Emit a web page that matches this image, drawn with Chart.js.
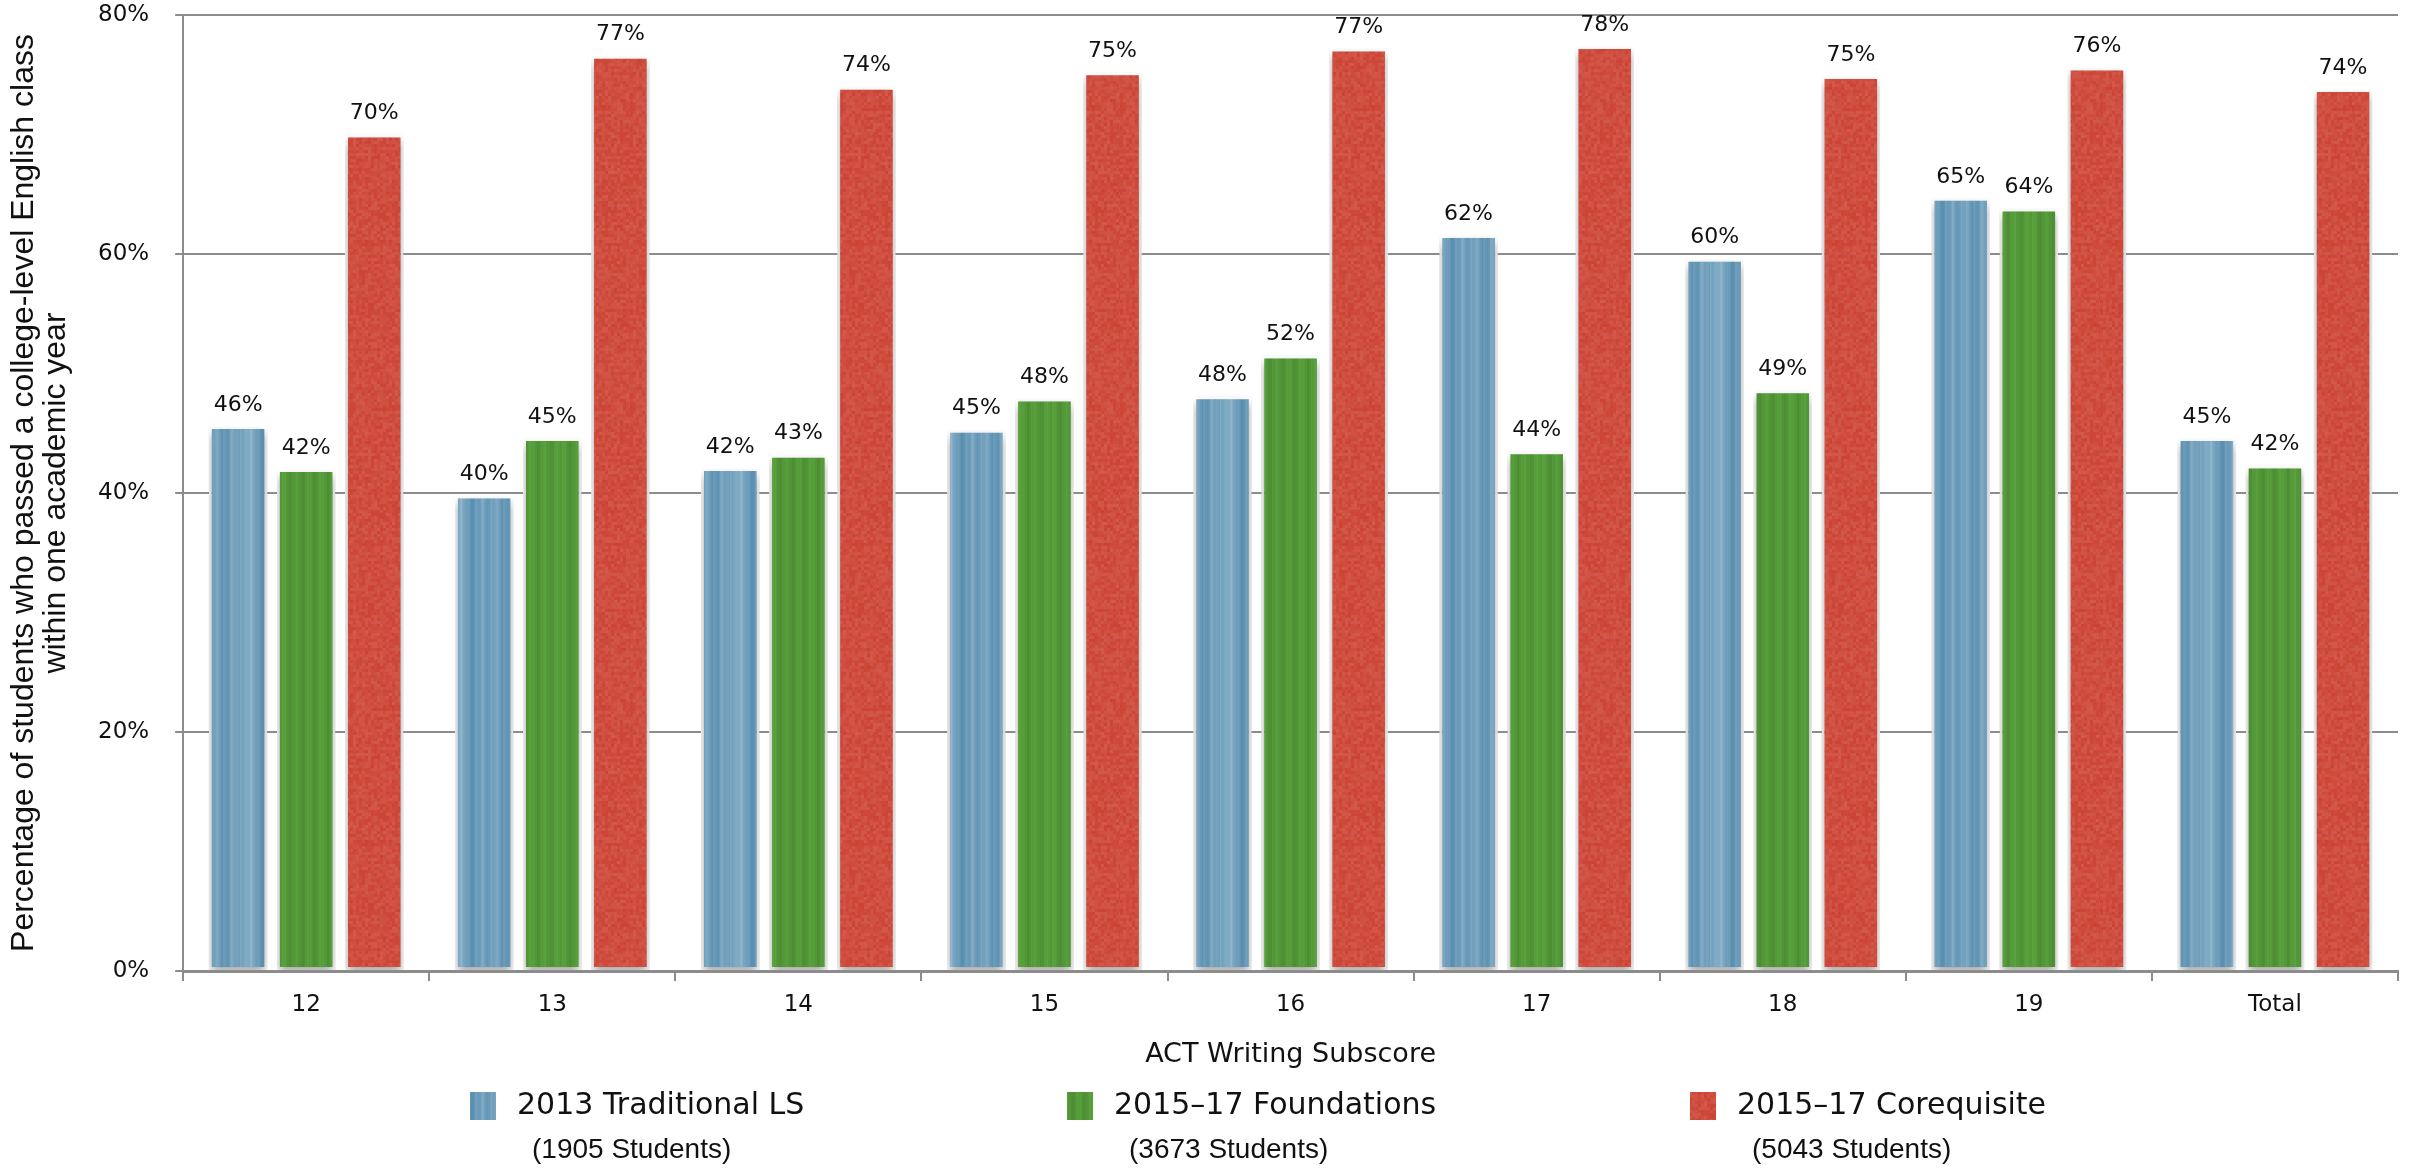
<!DOCTYPE html>
<html>
<head>
<meta charset="utf-8">
<script src="https://cdn.jsdelivr.net/npm/chart.js@4.4.1/dist/chart.umd.min.js"></script>
<style>
  html, body { margin: 0; padding: 0; background: #fff; }
  #wrap { width: 2410px; height: 1170px; }
</style>
</head>
<body>
<div id="wrap"><canvas id="chart" width="2410" height="1170"></canvas></div>
<script>
// values (percent passing)
const categories = ['12', '13', '14', '15', '16', '17', '18', '19', 'Total'];
const traditional = [45.6, 39.8, 42.1, 45.3, 48.1, 61.6, 59.6, 64.7, 44.6];
const foundations = [42.0, 44.6, 43.2, 47.9, 51.5, 43.5, 48.6, 63.8, 42.3];
const corequisite = [70.0, 76.6, 74.0, 75.2, 77.2, 77.4, 74.9, 75.6, 73.8];
const seriesNames = ['2013 Traditional LS', '2015\u201317 Foundations', '2015\u201317 Corequisite'];
const seriesCounts = ['(1905 Students)', '(3673 Students)', '(5043 Students)'];
const barText = [
    ['46%', '40%', '42%', '45%', '48%', '62%', '60%', '65%', '45%'],
    ['42%', '45%', '43%', '48%', '52%', '44%', '49%', '64%', '42%'],
    ['70%', '77%', '74%', '75%', '77%', '78%', '75%', '76%', '74%']
];
const yTicks = [0, 20, 40, 60, 80];

// cheap deterministic noise for the bar textures
function hash(i) {
    const s = Math.sin(i * 12.9898) * 43758.5453;
    return s - Math.floor(s);
}

function makePattern(kind) {
    const c = document.createElement('canvas');
    c.width = 70; c.height = 300;
    const g = c.getContext('2d');
    if (kind === 'blue') {
        g.fillStyle = '#6b9cc2';
        g.fillRect(0, 0, c.width, c.height);
        for (let x = 0; x < c.width; x++) {
            const v = Math.sin(x * 0.33) * 0.5 + Math.sin(x * 0.91 + 1.3) * 0.3 + (hash(x) - 0.5) * 0.4;
            g.fillStyle = `hsl(203, 36%, ${58 + v * 8}%)`;
            g.fillRect(x, 0, 1, c.height);
        }
        g.fillStyle = 'rgba(190,220,230,0.25)';
        g.fillRect(30, 0, 12, c.height);
    } else if (kind === 'green') {
        g.fillStyle = '#4f9c38';
        g.fillRect(0, 0, c.width, c.height);
        for (let x = 0; x < c.width; x++) {
            const v = Math.sin(x * 0.5) * 0.4 + (hash(x + 50) - 0.5) * 0.6;
            g.fillStyle = `hsl(103, 46%, ${41 + v * 5}%)`;
            g.fillRect(x, 0, 1, c.height);
        }
    } else {
        g.fillStyle = '#d04b3d';
        g.fillRect(0, 0, c.width, c.height);
        for (let y = 0; y < c.height; y += 3) {
            for (let x = 0; x < c.width; x += 3) {
                const v = hash(x * 311 + y * 7) - 0.5;
                g.fillStyle = `hsl(6, 60%, ${53 + v * 6}%)`;
                g.fillRect(x, y, 3, 3);
            }
        }
    }
    return g.createPattern(c, 'repeat');
}

const ctx = document.getElementById('chart').getContext('2d');
const fills = [makePattern('blue'), makePattern('green'), makePattern('red')];

const barShadow = {
    id: 'barShadow',
    beforeDatasetsDraw(chart) {
        const c = chart.ctx;
        c.save();
        c.shadowColor = 'rgba(0,0,0,0.35)';
        c.shadowBlur = 10;
        c.shadowOffsetY = 5;
    },
    afterDatasetsDraw(chart) {
        chart.ctx.restore();
    }
};

const valueLabels = {
    id: 'valueLabels',
    afterDatasetsDraw(chart) {
        const c = chart.ctx;
        c.save();
        c.font = '22px "DejaVu Sans"';
        c.fillStyle = '#111';
        c.textAlign = 'center';
        c.textBaseline = 'bottom';
        chart.data.datasets.forEach((ds, i) => {
            chart.getDatasetMeta(i).data.forEach((bar, j) => {
                c.fillText(barText[i][j], bar.x, bar.y - 10);
            });
        });
        c.restore();
    }
};

// two-line legend under the axis title
const twoLineLegend = {
    id: 'twoLineLegend',
    afterDraw(chart, args, opts) {
        const c = chart.ctx;
        c.save();
        chart.data.datasets.forEach((ds, i) => {
            const x = opts.xs[i];
            c.fillStyle = ds.backgroundColor;
            c.fillRect(x, opts.y - 14, 26, 28);
            c.fillStyle = '#111';
            c.textBaseline = 'middle';
            c.textAlign = 'left';
            c.font = '30px "DejaVu Sans"';
            c.fillText(ds.label, x + 47, opts.y);
            c.font = '28px "Liberation Sans"';
            c.fillText(seriesCounts[i], x + 62, opts.y + 44);
        });
        c.restore();
    }
};

new Chart(ctx, {
    type: 'bar',
    data: {
        labels: categories,
        datasets: [
            {label: seriesNames[0], data: traditional, backgroundColor: fills[0]},
            {label: seriesNames[1], data: foundations, backgroundColor: fills[1]},
            {label: seriesNames[2], data: corequisite, backgroundColor: fills[2]}
        ]
    },
    options: {
        responsive: false,
        animation: false,
        layout: {padding: {left: 8, right: 12, top: 15, bottom: 99}},
        datasets: {
            bar: {
                borderColor: '#ffffff',
                borderWidth: 3,
                borderSkipped: false,
                categoryPercentage: 0.83,
                barPercentage: 0.86
            }
        },
        plugins: {
            legend: {display: false},
            tooltip: {enabled: false},
            twoLineLegend: {xs: [470, 1067, 1690], y: 1106}
        },
        scales: {
            x: {
                grid: {
                    drawOnChartArea: false,
                    drawTicks: true,
                    tickLength: 10,
                    color: '#8c8c8c',
                    lineWidth: 2
                },
                border: {color: '#8c8c8c', width: 3},
                ticks: {
                    color: '#111',
                    font: {family: '"DejaVu Sans"', size: 23},
                    padding: 10
                },
                title: {
                    display: true,
                    text: 'ACT Writing Subscore',
                    color: '#111',
                    font: {family: '"DejaVu Sans"', size: 27},
                    padding: {top: 10, bottom: 0}
                }
            },
            y: {
                min: 0,
                max: 80,
                afterBuildTicks(axis) {
                    axis.ticks = yTicks.map(v => ({value: v}));
                },
                afterFit(axis) {
                    // let the top gridline sit close to the edge
                    axis.paddingTop = 0;
                },
                grid: {
                    color: '#8c8c8c',
                    lineWidth: 2,
                    tickLength: 8
                },
                border: {color: '#8c8c8c', width: 2},
                ticks: {
                    color: '#111',
                    font: {family: '"DejaVu Sans"', size: 23},
                    padding: 26,
                    callback: v => v + '%'
                },
                title: {
                    display: true,
                    text: ['Percentage of students who passed a college-level English class', 'within one academic year'],
                    color: '#111',
                    font: {family: '"Liberation Sans"', size: 32, lineHeight: 1.0},
                    padding: {top: 0, bottom: 0}
                }
            }
        }
    },
    plugins: [barShadow, valueLabels, twoLineLegend]
});
</script>
</body>
</html>
